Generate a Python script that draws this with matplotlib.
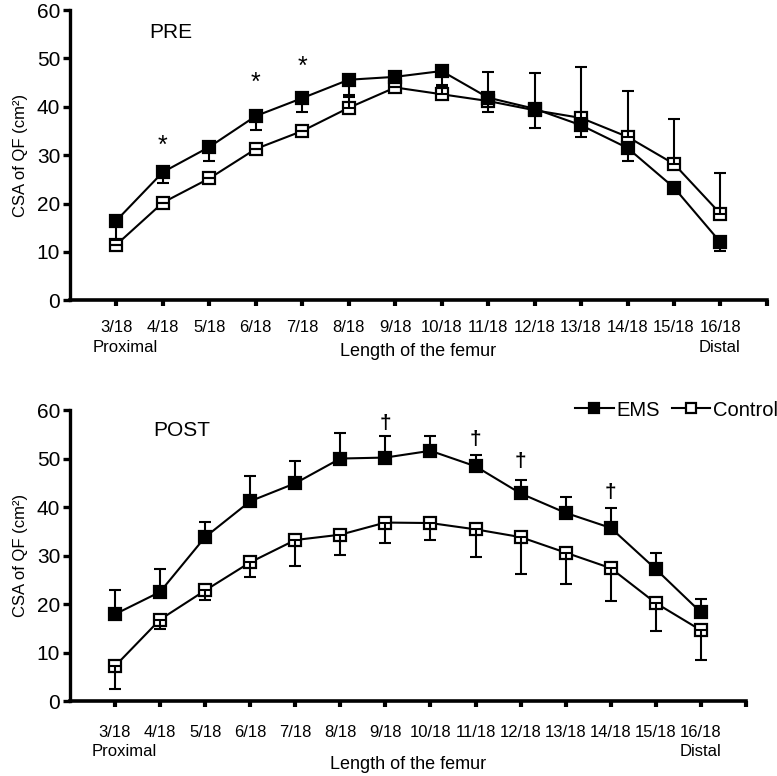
import numpy as np
import matplotlib
matplotlib.use('Agg')
import matplotlib.pyplot as plt
import matplotlib.transforms as mtransforms

plt.rcParams['font.family'] = ['Liberation Sans', 'DejaVu Sans']

positions = list(range(3, 17))
tick_labels = ['3/18', '4/18', '5/18', '6/18', '7/18', '8/18', '9/18', '10/18',
               '11/18', '12/18', '13/18', '14/18', '15/18', '16/18']

# PRE
pre_ems = [16.5, 26.5, 31.7, 38.1, 41.8, 45.6, 46.2, 47.4, 41.9, 39.6, 36.2, 31.5, 23.3, 12.0]
pre_ems_low = [12.5, 24.2, 28.7, 35.3, 39.0, 42.4, 46.2, 44.2, 39.0, 35.6, 33.8, 28.9, 23.3, 10.1]
pre_ctrl = [11.5, 20.2, 25.2, 31.3, 35.0, 39.8, 44.0, 42.6, 41.2, 39.3, 37.7, 33.8, 28.2, 17.9]
pre_ctrl_high = [11.5, 20.2, 25.2, 31.3, 35.0, 42.0, 44.0, 44.5, 47.2, 46.9, 48.3, 43.2, 37.4, 26.4]
pre_stars = {4: 32.0, 6: 45.0, 7: 48.2}

# POST
post_ems = [17.9, 22.5, 33.8, 41.2, 44.9, 50.0, 50.2, 51.6, 48.4, 42.8, 38.8, 35.7, 27.2, 18.3]
post_ems_high = [22.9, 27.2, 36.9, 46.3, 49.4, 55.2, 54.7, 54.7, 50.8, 45.5, 42.0, 39.7, 30.6, 21.0]
post_ctrl = [7.2, 16.8, 22.8, 28.6, 33.2, 34.3, 36.8, 36.7, 35.4, 33.8, 30.6, 27.4, 20.2, 14.6]
post_ctrl_low = [2.5, 14.8, 20.8, 25.6, 27.9, 30.1, 32.6, 33.2, 29.6, 26.1, 24.1, 20.7, 14.5, 8.4]
post_daggers = {9: 57.3, 11: 53.9, 12: 49.4, 14: 42.9}

fig = plt.figure(figsize=(7.77, 7.76), dpi=100)
ax1 = fig.add_axes([0.090, 0.613, 0.897, 0.374])
ax2 = fig.add_axes([0.090, 0.0966, 0.870, 0.375])


def style_axes(ax, tickpad, labelpad, yprox):
    ax.set_xlim(2, 17)
    ax.set_ylim(0, 60)
    ax.set_yticks(range(0, 61, 10))
    ax.set_xticks(positions + [17])
    ax.set_xticklabels(tick_labels + [''])
    for s in ['top', 'right']:
        ax.spines[s].set_visible(False)
    ax.spines['left'].set_linewidth(2.4)
    ax.spines['bottom'].set_linewidth(2.6)
    ax.tick_params(axis='x', direction='out', length=4, width=3, labelsize=12, pad=tickpad)
    ax.tick_params(axis='y', direction='out', length=5, width=2.4, labelsize=15, pad=2)
    ax.set_ylabel('CSA of QF (cm²)', fontsize=12, labelpad=6)
    ax.set_xlabel('Length of the femur', fontsize=13, labelpad=labelpad)
    trans = mtransforms.blended_transform_factory(ax.transData, ax.transAxes)
    ax.text(2.48, yprox, 'Proximal', transform=trans, fontsize=12, ha='left', va='center')
    ax.text(15.53, yprox, 'Distal', transform=trans, fontsize=12, ha='left', va='center')


def series(ax, y, low, high, filled, label):
    y = np.array(y)
    err = [y - np.array(low), np.array(high) - y]
    ax.errorbar(positions, y, yerr=err, fmt='none', ecolor='black', elinewidth=1.5,
                capsize=4, capthick=1.5, zorder=4)
    ax.plot(positions, y, color='black', lw=1.5, marker='s', markersize=9,
            markerfacecolor='black' if filled else 'white', markeredgecolor='black',
            markeredgewidth=1.6, label=label, zorder=3)


style_axes(ax1, 10, 6, -0.162)
series(ax1, pre_ctrl, pre_ctrl, pre_ctrl_high, False, 'Control')
series(ax1, pre_ems, pre_ems_low, pre_ems, True, 'EMS')
for x, yv in pre_stars.items():
    ax1.text(x, yv, '*', fontsize=18, ha='center', va='center')
ax1.text(3.7, 55.3, 'PRE', fontsize=15, ha='left', va='center')

style_axes(ax2, 13, 12, -0.175)
series(ax2, post_ctrl, post_ctrl_low, post_ctrl, False, 'Control')
series(ax2, post_ems, post_ems, post_ems_high, True, 'EMS')
for x, yv in post_daggers.items():
    ax2.text(x, yv, '†', fontsize=15, fontweight='bold', ha='center', va='center')
ax2.text(3.85, 55.8, 'POST', fontsize=15, ha='left', va='center')

h, l = ax2.get_legend_handles_labels()
ax2.legend(h[::-1], l[::-1], loc='upper right', bbox_to_anchor=(1.075, 1.095), ncol=2,
           frameon=False, fontsize=14.5, handlelength=1.9, handletextpad=0.15,
           columnspacing=0.6, markerscale=0.85)

fig.savefig('out.png', dpi=100)
